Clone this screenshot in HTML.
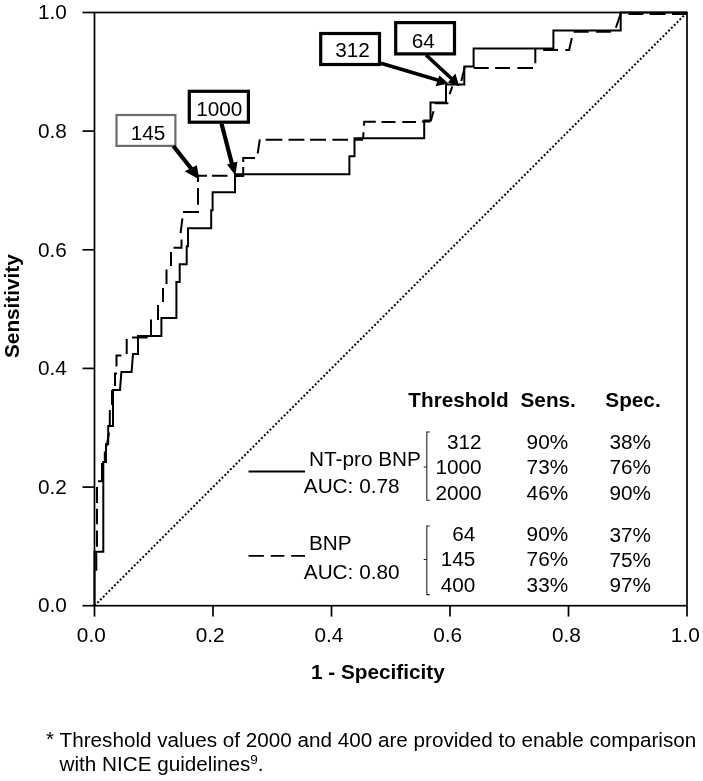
<!DOCTYPE html>
<html><head><meta charset="utf-8"><title>ROC curve</title>
<style>
html,body{margin:0;padding:0;background:#fff;}
body{width:703px;height:781px;overflow:hidden;position:relative;font-family:"Liberation Sans",Arial,sans-serif;color:#000;}
svg{position:absolute;left:0;top:0;display:block;}
svg text{font-family:"Liberation Sans",Arial,sans-serif;font-size:20.75px;fill:#000;}
.b{font-weight:bold;}
</style></head><body>
<svg width="703" height="781" viewBox="0 0 703 781">
<rect x="0" y="0" width="703" height="781" fill="#fff"/>
<!-- frame -->
<rect x="94.5" y="12.5" width="592.5" height="593.2" fill="none" stroke="#000" stroke-width="1.7"/>
<!-- ticks -->
<g stroke="#000" stroke-width="1.7" fill="none">
<path d="M82.5 605.7 H94.5"/><path d="M94.5 605.7 V616.6"/>
<path d="M82.5 487.1 H94.5"/><path d="M213.0 605.7 V616.6"/>
<path d="M82.5 368.4 H94.5"/><path d="M331.5 605.7 V616.6"/>
<path d="M82.5 249.8 H94.5"/><path d="M450.0 605.7 V616.6"/>
<path d="M82.5 131.1 H94.5"/><path d="M568.5 605.7 V616.6"/>
<path d="M82.5 12.5 H94.5"/><path d="M687.0 605.7 V616.6"/>
</g>
<g text-anchor="end">
<text x="66.8" y="612.4">0.0</text>
<text x="66.8" y="493.8">0.2</text>
<text x="66.8" y="375.1">0.4</text>
<text x="66.8" y="256.5">0.6</text>
<text x="66.8" y="137.8">0.8</text>
<text x="66.8" y="19.2">1.0</text>
</g>
<g text-anchor="middle">
<text x="91.3" y="642.2">0.0</text>
<text x="210.1" y="642.2">0.2</text>
<text x="328.9" y="642.2">0.4</text>
<text x="447.7" y="642.2">0.6</text>
<text x="566.5" y="642.2">0.8</text>
<text x="685.3" y="642.2">1.0</text>
</g>
<text class="b" transform="translate(19.2 306.1) rotate(-90)" text-anchor="middle">Sensitivity</text>
<text class="b" x="311" y="679.4">1 - Specificity</text>
<!-- diagonal -->
<path d="M94.5 605.7 L687.0 12.5" stroke="#000" stroke-width="2" stroke-dasharray="1.9 2.1" fill="none"/>
<!-- solid curve -->
<path d="M94.5 605.7 L94.5 551.8 L103.3 551.8 L103.3 461.9 L106 461.9 L106 443.9 L108.2 443.9 L108.2 425.9 L113 425.9 L113 390.0 L120 390.0 L121.4 372.0 L131.6 372.0 L133 354.0 L138 354.0 L138 336.1 L161.4 336.1 L161.4 318.1 L176.4 318.1 L176.4 282.1 L179.7 282.1 L179.7 264.2 L186.7 264.2 L186.7 246.2 L188 246.2 L188 228.2 L211.2 228.2 L211.2 210.2 L212.6 210.2 L212.6 192.3 L235 192.3 L235 174.3 L349.4 174.3 L349.4 156.3 L354.5 156.3 L354.5 138.3 L424.2 138.3 L424.2 120.4 L430.5 120.4 L430.5 102.4 L446 102.4 L446 84.4 L464.3 84.4 L464.3 66.4 L473.6 66.4 L473.6 48.5 L553.4 48.5 L553.4 30.5 L620.7 30.5 L620.7 12.5 L687 12.5" stroke="#000" stroke-width="2" fill="none" stroke-linejoin="miter"/>
<!-- dashed curve -->
<path d="M96.3 570.7 L96.3 552.4 M97 546.8 L97 530.6 M97 524.2 L97 508.7 M97 503.1 L97 486.9 M98 481.3 L102 481.3 L102 463 M104.8 462 L104.8 451.5 M106.8 446 L109 432.6 M109.8 425 L109.8 410 M112 405 L112 390 M117 373.5 L115 373.5 L115 386 M116.5 366.5 L116.5 355.6 L121.4 355.6 M126.7 354 L126.7 339 M132 337.5 L147.6 337.5 M151 336 L151 319.4 M158 320 L158 305 M163 302 L163 288 M166.5 284 L166.5 269.5 M171 266 L171 252 M173.5 247.8 L181.5 247.8 L181.5 239.6 M180.6 233.2 L182.4 218.3 M183 211.9 L199 211.9 M198 204.8 L198 188 M198 182 L198 175.8 L207 175.8 M211.9 175.8 L227.5 175.8 M235 176 L243.2 176 L243.2 167 M243.2 162 L243.2 158 L255 158 M257.7 153.5 L259.8 139.3 M265.7 139.7 L282.3 139.7 M288.5 139.7 L304.4 139.7 M310.1 139.7 L326 139.7 M332.4 139.7 L348.0 139.7 M354.5 139.7 L363 139.7 M363 139 L363.5 132.2 M363.9 125.6 L364.2 121.8 L375.8 121.8 M381.5 122 L395.5 122 M402.3 122 L416 122 M421.9 121.6 L430.5 121.6 M430.8 121 L433.5 111.3 M434.7 103.3 L448.4 103.3 M449.6 94.3 L452.3 86.4 M461.3 80.9 L464.8 67 M473.6 67.9 L488.7 67.9 M495.1 67.9 L509.9 67.9 M517.3 67.9 L533 67.9 M535.3 63.2 L535.3 48.5 M543.2 49.9 L558 49.9 M565.4 49.9 L569.1 49.9 L571.9 37.9 M573.7 31.8 L588.7 31.8 M596.1 31.8 L610.9 31.8 M615.9 27.7 L620.7 13.5 M628.5 14 L643.3 14 M649.7 14 L665.5 14 M672 14 L687 14" stroke="#000" stroke-width="2" fill="none" stroke-linejoin="miter"/>
<!-- annotation boxes -->
<rect x="116.5" y="115" width="58.9" height="30.9" fill="#fff" stroke="#6c6c6c" stroke-width="2.2"/>
<text x="148" y="140" text-anchor="middle">145</text>
<rect x="189.3" y="91.3" width="59.1" height="30.9" fill="#fff" stroke="#000" stroke-width="3.2"/>
<text x="219.3" y="116.4" text-anchor="middle">1000</text>
<rect x="320.7" y="33.5" width="58.8" height="31" fill="#fff" stroke="#000" stroke-width="3.2"/>
<text x="352.5" y="56.6" text-anchor="middle">312</text>
<rect x="395.7" y="22.6" width="58.8" height="31.3" fill="#fff" stroke="#000" stroke-width="3.2"/>
<text x="423.2" y="47.8" text-anchor="middle">64</text>
<!-- arrows -->
<g stroke="#000" fill="none">
<path d="M173.3 146 L192 169.5" stroke-width="4.2"/>
<path d="M221.5 123.5 L232 164" stroke-width="4.2"/>
<path d="M381 63.2 L440 80.8" stroke-width="3.7"/>
<path d="M426 55 L452 79" stroke-width="3.7"/>
</g>
<g fill="#000" stroke="none">
<polygon points="199.4,179.4 184.6,171.2 196.8,165.2"/>
<polygon points="235.4,175.6 227,164.4 237.4,161.6"/>
<polygon points="448.6,83.5 439.4,75.4 435.5,86.2"/>
<polygon points="459.2,86.2 455.4,73.5 448,82.4"/>
</g>
<!-- legend -->
<path d="M248.5 471.5 H305" stroke="#000" stroke-width="1.8"/>
<path d="M248.5 555.8 H263.9 M270.7 555.8 H284.4 M291.2 555.8 H305" stroke="#000" stroke-width="1.8"/>
<text x="309" y="465.7">NT-pro BNP</text>
<text x="303.8" y="493.2">AUC: 0.78</text>
<text x="309" y="550.1">BNP</text>
<text x="303.8" y="578.5">AUC: 0.80</text>
<!-- brackets -->
<g stroke="#222" stroke-width="1.1" fill="none">
<path d="M429.8 432 H426.8 V500.2 H429.8 M426.8 467 H423.7"/>
<path d="M429.8 526 H426.8 V594.6 H429.8 M426.8 559.5 H423.7"/>
</g>
<!-- table -->
<text class="b" x="408.3" y="407.1">Threshold</text>
<text class="b" x="520.5" y="407.1">Sens.</text>
<text class="b" x="605.3" y="407.1">Spec.</text>
<g text-anchor="end">
<text x="481.6" y="448.5">312</text>
<text x="481.6" y="474.4">1000</text>
<text x="481.6" y="499.6">2000</text>
<text x="475.3" y="540.8">64</text>
<text x="475.3" y="566">145</text>
<text x="475.3" y="592.4">400</text>
</g>
<g>
<text x="526.6" y="448.5">90%</text>
<text x="526.6" y="474.4">73%</text>
<text x="526.6" y="499.6">46%</text>
<text x="526.6" y="540.8">90%</text>
<text x="526.6" y="566">76%</text>
<text x="526.6" y="592.4">33%</text>
<text x="609.5" y="448.5">38%</text>
<text x="609.5" y="474.4">76%</text>
<text x="609.5" y="499.6">90%</text>
<text x="609.5" y="541.8">37%</text>
<text x="609.5" y="567">75%</text>
<text x="609.5" y="592.4">97%</text>
</g>
<!-- footnote -->
<text x="46" y="746.4">*</text>
<text x="59.6" y="746.6" style="font-size:20.68px">Threshold values of 2000 and 400 are provided to enable comparison</text>
<text x="59.6" y="771.4" style="font-size:20.68px">with NICE guidelines<tspan style="font-size:13.5px" dy="-7">9</tspan><tspan dy="7">.</tspan></text>
</svg>
</body></html>
